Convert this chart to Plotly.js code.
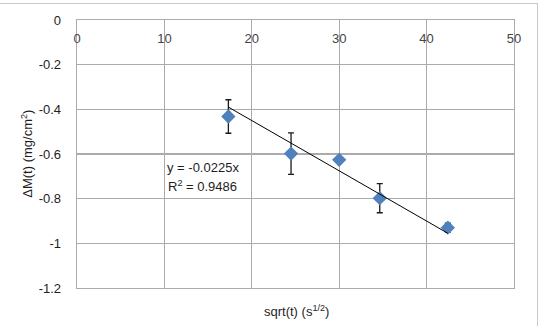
<!DOCTYPE html>
<html>
<head>
<meta charset="utf-8">
<script src="https://cdn.plot.ly/plotly-3.0.1.min.js"></script>
<style>
  html, body { margin: 0; padding: 0; background: #fff; }
  #wrap { position: relative; width: 540px; height: 326px; }
  #frame { position: absolute; left: 0; top: 3px; width: 538px; height: 323px;
           border-top: 1px solid #c8c8c8; border-right: 1px solid #c8c8c8; box-sizing: border-box; pointer-events: none; }
  #chart { position: absolute; left: 0; top: 0; width: 540px; height: 326px; }
</style>
</head>
<body>
<div id="wrap">
  <div id="chart"></div>
  <div id="frame"></div>
</div>
<script>
// Data
const sqrtT = [17.32, 24.49, 30.0, 34.64, 42.43];
const deltaM = [-0.432, -0.598, -0.626, -0.798, -0.930];
const errM = [0.075, 0.093, 0, 0.065, 0.02];
// Linear trendline (y = -0.0225x) endpoints as drawn
const trendX = [17.32, 42.43];
const trendY = [-0.39, -0.955];
const xTicks = [0, 10, 20, 30, 40, 50];
const yTicks = [0, -0.2, -0.4, -0.6, -0.8, -1, -1.2];
const eqText = 'y = -0.0225x';
const r2Text = 'R<sup>2</sup> = 0.9486';
const xTitle = 'sqrt(t) (s<sup>1/2</sup>)';
const yTitle = 'ΔM(t) (mg/cm<sup>2</sup>)';

const FONT = 'Liberation Sans, Arial, sans-serif';
const grid = '#ababab';

const traces = [
  {
    x: sqrtT, y: deltaM, type: 'scatter', mode: 'markers',
    marker: { symbol: 'diamond', size: 11, color: '#4f81bd' },
    error_y: { type: 'data', array: errM, visible: true, color: '#1a1a1a', thickness: 1.3, width: 3 },
    showlegend: false, hoverinfo: 'x+y'
  },
  {
    x: trendX, y: trendY, type: 'scatter', mode: 'lines',
    line: { color: '#000', width: 1 }, showlegend: false, hoverinfo: 'skip'
  }
];

const layout = {
  width: 540, height: 326,
  margin: { l: 77, r: 26, t: 20, b: 38, pad: 0 },
  paper_bgcolor: '#fff', plot_bgcolor: '#fff',
  font: { family: FONT, size: 13, color: '#1e1e1e' },
  showlegend: false,
  xaxis: {
    range: [0, 50], side: 'top', tickvals: xTicks, ticktext: xTicks.map(String),
    ticklabelposition: 'inside', ticklabelstandoff: 14, ticklabeloverflow: 'allow', ticks: '',
    showgrid: true, gridcolor: grid, gridwidth: 1.3,
    showline: true, linecolor: grid, linewidth: 1.3, mirror: true,
    zeroline: false, fixedrange: true
  },
  yaxis: {
    range: [-1.2, 0], tickvals: yTicks, ticktext: yTicks.map(String),
    ticks: '', ticklabelstandoff: 12, ticklabeloverflow: 'allow',
    showgrid: true, gridcolor: grid, gridwidth: 1.3,
    showline: true, linecolor: grid, linewidth: 1.3, mirror: true,
    zeroline: false, fixedrange: true
  },
  annotations: [
    { text: eqText, xref: 'paper', yref: 'paper', x: 0.288, y: 0.448, xanchor: 'center', yanchor: 'middle', showarrow: false, font: { size: 13 } },
    { text: r2Text, xref: 'paper', yref: 'paper', x: 0.288, y: 0.381, xanchor: 'center', yanchor: 'middle', showarrow: false, font: { size: 13 } },
    { text: xTitle, xref: 'paper', yref: 'paper', x: 0.503, y: -0.05, xanchor: 'center', yanchor: 'top', showarrow: false, font: { size: 13 } },
    { text: yTitle, xref: 'paper', yref: 'paper', x: -0.115, y: 0.5, xanchor: 'center', yanchor: 'middle', textangle: -90, showarrow: false, font: { size: 13 } }
  ]
};

Plotly.newPlot('chart', traces, layout, { staticPlot: true, displayModeBar: false });
</script>
</body>
</html>
